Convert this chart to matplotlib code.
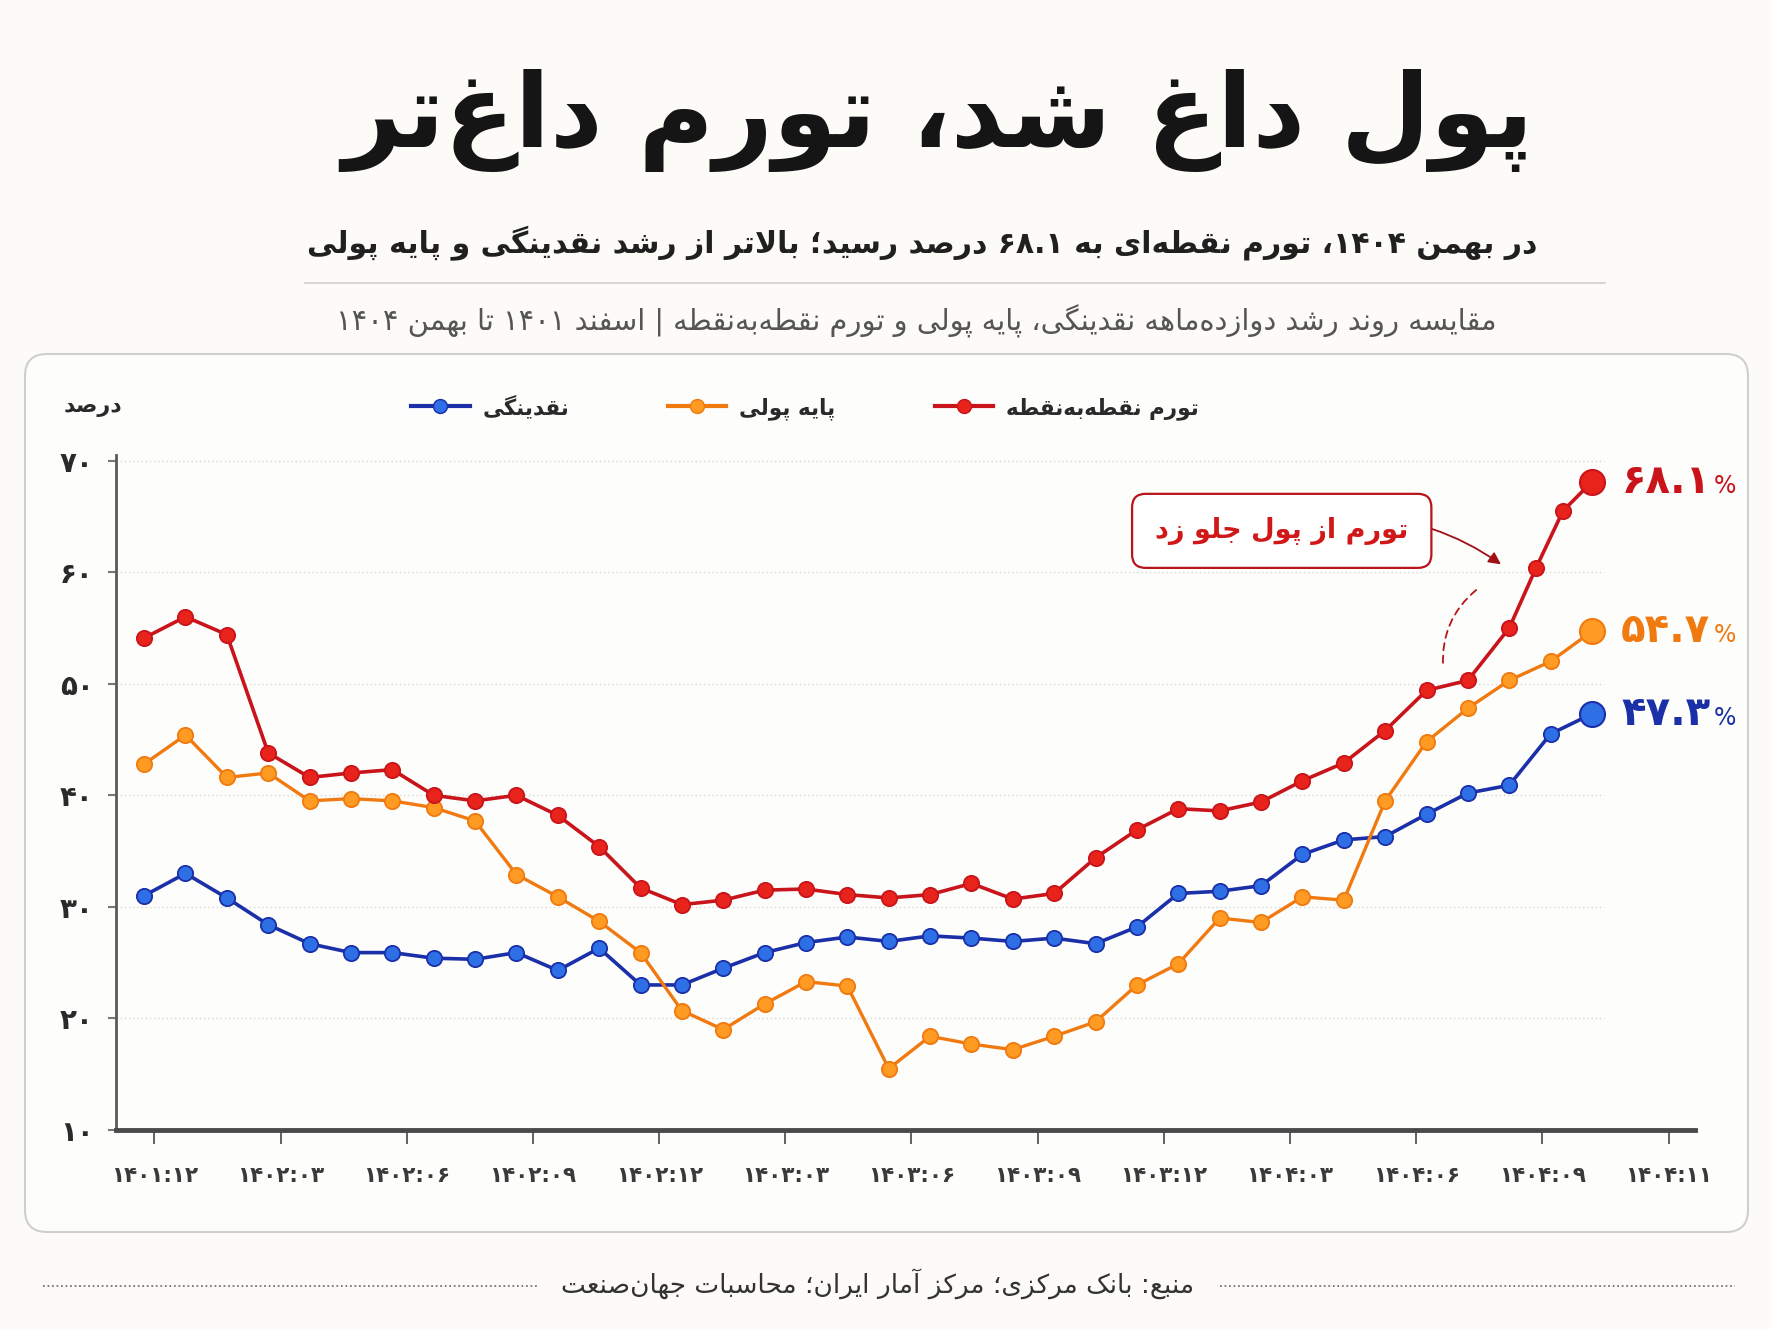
import re
import matplotlib
matplotlib.use("Agg")
import matplotlib.pyplot as plt
from matplotlib.patches import FancyBboxPatch
from matplotlib.lines import Line2D
import numpy as np

plt.rcParams["font.family"] = ["DejaVu Sans"]

# ---- data ----
months = list(range(36))                              # Esfand 1401 .. Bahman 1404
red_months = list(range(34)) + [33.65, 34.3, 35]      # inflation series has one extra point squeezed at the end

inflation = [54.1, 56.0, 54.4, 43.8, 41.6, 42.0, 42.3, 40.0, 39.5, 40.0, 38.2, 35.4,
             31.7, 30.2, 30.6, 31.5, 31.6, 31.1, 30.8, 31.1, 32.1, 30.7, 31.2, 34.4,
             36.9, 38.8, 38.6, 39.4, 41.3, 42.9, 45.8, 49.4, 50.3, 55.0, 60.4, 65.5, 68.1]
base_money = [42.8, 45.4, 41.6, 42.0, 39.5, 39.7, 39.5, 38.9, 37.7, 32.9, 30.9, 28.7,
              25.9, 20.7, 19.0, 21.3, 23.3, 22.9, 15.5, 18.4, 17.7, 17.2, 18.4, 19.7,
              23.0, 24.9, 29.0, 28.6, 30.9, 30.6, 39.5, 44.8, 47.8, 50.3, 52.0, 54.7]
liquidity = [31.0, 33.0, 30.8, 28.4, 26.7, 25.9, 25.9, 25.4, 25.3, 25.9, 24.3, 26.3,
             23.0, 23.0, 24.5, 25.9, 26.8, 27.3, 26.9, 27.4, 27.2, 26.9, 27.2, 26.7,
             28.2, 31.2, 31.4, 31.9, 34.7, 36.0, 36.3, 38.3, 40.2, 40.9, 45.5, 47.3]

x_labels = ["۱۴۰۱:۱۲", "۱۴۰۲:۰۳", "۱۴۰۲:۰۶", "۱۴۰۲:۰۹", "۱۴۰۲:۱۲", "۱۴۰۳:۰۳", "۱۴۰۳:۰۶",
            "۱۴۰۳:۰۹", "۱۴۰۳:۱۲", "۱۴۰۴:۰۳", "۱۴۰۴:۰۶", "۱۴۰۴:۰۹", "۱۴۰۴:۱۱"]
y_ticks = [10, 20, 30, 40, 50, 60, 70]
y_labels = ["۱۰", "۲۰", "۳۰", "۴۰", "۵۰", "۶۰", "۷۰"]
end_labels = ["۶۸.۱", "۵۴.۷", "۴۷.۳"]

title = "پول داغ شد، تورم داغ‌تر"
subtitle = "در بهمن ۱۴۰۴، تورم نقطه‌ای به ۶۸.۱ درصد رسید؛ بالاتر از رشد نقدینگی و پایه پولی"
subtitle2 = "مقایسه روند رشد دوازده‌ماهه نقدینگی، پایه پولی و تورم نقطه‌به‌نقطه | اسفند ۱۴۰۱ تا بهمن ۱۴۰۴"
names = ["تورم نقطه‌به‌نقطه", "پایه پولی", "نقدینگی"]
callout = "تورم از پول جلو زد"
source = "منبع: بانک مرکزی؛ مرکز آمار ایران؛ محاسبات جهان‌صنعت"

RED, RED_F = "#c8141a", "#e8231c"
ORA, ORA_F = "#f07a10", "#ff9a22"
BLU, BLU_F = "#1a2fa8", "#2f6fe6"
BG = "#fcfbf7"

# ---- minimal Persian shaping + RTL ordering (matplotlib has no text shaping) ----
FORMS = {
    "ا": "\uFE8D\uFE8E", "آ": "\uFE81\uFE82", "أ": "\uFE83\uFE84",
    "د": "\uFEA9\uFEAA", "ذ": "\uFEAB\uFEAC", "ر": "\uFEAD\uFEAE", "ز": "\uFEAF\uFEB0",
    "ژ": "\uFB8A\uFB8B", "و": "\uFEED\uFEEE",
    "ب": "\uFE8F\uFE90\uFE91\uFE92", "پ": "\uFB56\uFB57\uFB58\uFB59",
    "ت": "\uFE95\uFE96\uFE97\uFE98", "ث": "\uFE99\uFE9A\uFE9B\uFE9C",
    "ج": "\uFE9D\uFE9E\uFE9F\uFEA0", "چ": "\uFB7A\uFB7B\uFB7C\uFB7D",
    "ح": "\uFEA1\uFEA2\uFEA3\uFEA4", "خ": "\uFEA5\uFEA6\uFEA7\uFEA8",
    "س": "\uFEB1\uFEB2\uFEB3\uFEB4", "ش": "\uFEB5\uFEB6\uFEB7\uFEB8",
    "ص": "\uFEB9\uFEBA\uFEBB\uFEBC", "ض": "\uFEBD\uFEBE\uFEBF\uFEC0",
    "ط": "\uFEC1\uFEC2\uFEC3\uFEC4", "ظ": "\uFEC5\uFEC6\uFEC7\uFEC8",
    "ع": "\uFEC9\uFECA\uFECB\uFECC", "غ": "\uFECD\uFECE\uFECF\uFED0",
    "ف": "\uFED1\uFED2\uFED3\uFED4", "ق": "\uFED5\uFED6\uFED7\uFED8",
    "ک": "\uFB8E\uFB8F\uFB90\uFB91", "گ": "\uFB92\uFB93\uFB94\uFB95",
    "ل": "\uFEDD\uFEDE\uFEDF\uFEE0", "م": "\uFEE1\uFEE2\uFEE3\uFEE4",
    "ن": "\uFEE5\uFEE6\uFEE7\uFEE8", "ه": "\uFEE9\uFEEA\uFEEB\uFEEC",
    "ی": "\uFBFC\uFBFD\uFBFE\uFBFF", "ئ": "\uFE89\uFE8A\uFE8B\uFE8C",
}


def shape(s):
    out = []
    i = 0
    while i < len(s):
        c = s[i]
        if c not in FORMS:
            if c != "\u200c":
                out.append(c)
            i += 1
            continue
        prev = s[i - 1] if i > 0 else ""
        join_prev = prev in FORMS and len(FORMS[prev]) == 4
        nxt = s[i + 1] if i + 1 < len(s) else ""
        if c == "ل" and nxt in ("ا", "آ"):
            lig = "\uFEFB\uFEFC" if nxt == "ا" else "\uFEF5\uFEF6"
            out.append(lig[1] if join_prev else lig[0])
            i += 2
            continue
        f = FORMS[c]
        join_next = len(f) == 4 and nxt in FORMS
        if join_prev and join_next:
            out.append(f[3])
        elif join_prev:
            out.append(f[1])
        elif join_next:
            out.append(f[2])
        else:
            out.append(f[0])
        i += 1
    return "".join(out)


def fa(s):
    tokens = re.findall(r"[0-9\u06F0-\u06F9]+(?:[.:][0-9\u06F0-\u06F9]+)*|.", shape(s))
    return "".join(reversed(tokens))


# ---- figure ----
W, H = 1772, 1329
fig = plt.figure(figsize=(W / 100, H / 100), dpi=100, facecolor=BG)


def fx(px):
    return px / W


def fy(py):
    return 1 - py / H


# panel behind the chart
panel = FancyBboxPatch((0.25, 0.97), 17.23, 8.78, boxstyle="round,pad=0,rounding_size=0.22",
                       transform=fig.dpi_scale_trans, facecolor="#fdfdfb", edgecolor="#cfcfcc",
                       lw=1.5, zorder=-5)
fig.patches.append(panel)

# titles
fig.text(fx(938), fy(120), fa(title), ha="center", va="center", fontsize=74,
         fontweight="bold", color="#151515")
fig.text(fx(1537), fy(243), fa(subtitle), ha="right", va="center", fontsize=21.5,
         fontweight="bold", color="#202020")
fig.add_artist(Line2D([fx(305), fx(1605)], [fy(283), fy(283)], transform=fig.transFigure,
                      color="#cfcfcf", lw=1.2))
fig.text(fx(1497), fy(321), fa(subtitle2), ha="right", va="center", fontsize=20.8,
         color="#555555")

# ---- axes ----
ax = fig.add_axes([fx(116), fy(1130), fx(1695) - fx(116), fy(455) - fy(1130)])
ax.set_facecolor("none")
ax.set_zorder(2)
ax.set_xlim(-0.68, 37.49)
ax.set_ylim(10, 70.5)

for yv in y_ticks[1:]:
    ax.plot([-0.68, 35.3], [yv, yv], color="#d6d6d6", lw=1.0, ls=(0, (1, 2)), zorder=1)

ax.plot(months, liquidity, color=BLU, lw=2.6, marker="o", ms=11, mfc=BLU_F, mec=BLU,
        mew=1.3, zorder=3)
ax.plot(months, base_money, color=ORA, lw=2.4, marker="o", ms=11, mfc=ORA_F, mec=ORA,
        mew=1.3, zorder=3)
ax.plot(red_months, inflation, color=RED, lw=2.6, marker="o", ms=11, mfc=RED_F, mec=RED,
        mew=1.3, zorder=4)

# bigger end markers + value labels
ends = [(red_months[-1], inflation[-1], RED, RED_F), (months[-1], base_money[-1], ORA, ORA_F),
        (months[-1], liquidity[-1], BLU, BLU_F)]
for (ex, ey, ec, fc), lab in zip(ends, end_labels):
    ax.plot(ex, ey, marker="o", ms=18, mfc=fc, mec=ec, mew=1.5, zorder=5)
    ax.annotate(lab, (ex, ey), xytext=(21, 0), textcoords="offset points", ha="left",
                va="center", fontsize=29, fontweight="bold", color=ec, annotation_clip=False)
    ax.annotate("%", (ex, ey), xytext=(88, -3), textcoords="offset points", ha="left",
                va="center", fontsize=17, color=ec, annotation_clip=False)

# callout
ax.annotate(fa(callout), xy=(32.8, 60.7), xytext=(27.5, 63.7), ha="center", va="center",
            fontsize=19.5, fontweight="bold", color="#d01818",
            bbox=dict(boxstyle="round,pad=0.85,rounding_size=0.5", fc="white", ec="#b8141a", lw=1.6),
            arrowprops=dict(arrowstyle="-|>", color="#a01016", lw=1.3, mutation_scale=18,
                            connectionstyle="arc3,rad=-0.25", shrinkA=0, shrinkB=0),
            zorder=6)
ax.annotate("", xy=(31.4, 51.6), xytext=(32.2, 58.4),
            arrowprops=dict(arrowstyle="-", color="#b8141a", lw=1.3, ls=(0, (4, 3)),
                            connectionstyle="arc3,rad=0.25", shrinkA=0, shrinkB=0))

# axes styling
for s in ("top", "right"):
    ax.spines[s].set_visible(False)
ax.spines["left"].set_color("#5a5a5a")
ax.spines["left"].set_linewidth(2)
ax.spines["bottom"].set_color("#4a4a4a")
ax.spines["bottom"].set_linewidth(3.5)

ax.set_yticks(y_ticks)
ax.set_yticklabels(y_labels, fontsize=20, fontweight="bold", color="#2a2a2a")
ax.set_xticks(0.25 + 3.05 * np.arange(len(x_labels)))
ax.set_xticklabels(x_labels, fontsize=15.5, fontweight="bold", color="#3a3a3a")
ax.tick_params(axis="y", length=6, width=1.5, color="#777777", pad=10)
ax.tick_params(axis="x", length=10, width=1.3, color="#555555", pad=16)

# legend (RTL: line key sits left of its label)
handles = [Line2D([], [], color=BLU, lw=3, marker="o", ms=10, mfc=BLU_F, mec=BLU),
           Line2D([], [], color=ORA, lw=3, marker="o", ms=10, mfc=ORA_F, mec=ORA),
           Line2D([], [], color=RED, lw=3, marker="o", ms=10, mfc=RED_F, mec=RED)]
leg = fig.legend(handles, [fa(names[2]), fa(names[1]), fa(names[0])], ncol=3,
                 loc="center left", bbox_to_anchor=(fx(392), fy(407)), frameon=False,
                 prop=dict(size=15.5, weight="bold"), handlelength=2.7, handletextpad=0.6,
                 columnspacing=4.6)
for t in leg.get_texts():
    t.set_color("#2a2a2a")
fig.text(fx(122), fy(407), fa("درصد"), ha="right", va="center", fontsize=16,
         fontweight="bold", color="#2a2a2a")

# source line
fig.text(fx(878), fy(1284), fa(source), ha="center", va="center", fontsize=19,
         color="#333333")
for x0, x1 in ((43, 537), (1220, 1735)):
    fig.add_artist(Line2D([fx(x0), fx(x1)], [fy(1286), fy(1286)], transform=fig.transFigure,
                          color="#777777", lw=1.3, ls=(0, (1, 1.5))))

fig.savefig("out.png", dpi=100, facecolor=BG)
